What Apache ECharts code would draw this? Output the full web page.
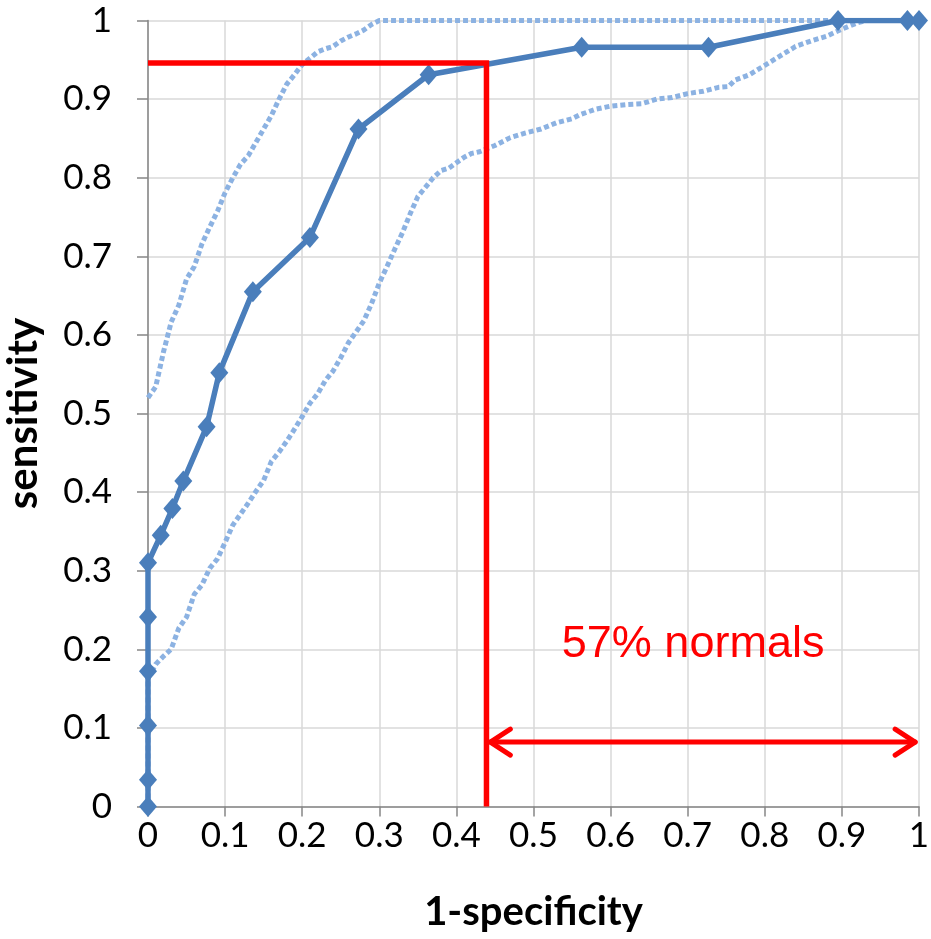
<!DOCTYPE html>
<html>
<head>
<meta charset="utf-8">
<script src="https://cdn.jsdelivr.net/npm/echarts@6/dist/echarts.min.js"></script>
<style>
html,body{margin:0;padding:0;background:#fff;}
#chart{width:931px;height:939px;}
</style>
</head>
<body>
<div id="chart"></div>
<script>
// ROC curve (1-specificity, sensitivity)
const rocX = [0, 0, 0, 0, 0, 0, 0.0165, 0.0316, 0.0458, 0.076, 0.0925, 0.136, 0.21, 0.273, 0.364, 0.5625, 0.727, 0.895, 0.985, 1.0];
const rocY = [0, 0.034, 0.103, 0.172, 0.241, 0.310, 0.345, 0.379, 0.414, 0.483, 0.552, 0.655, 0.724, 0.862, 0.931, 0.966, 0.966, 1.0, 1.0, 1.0];

// Upper confidence band
const upperX = [0, 0.01, 0.02, 0.03, 0.04, 0.05, 0.06, 0.07, 0.08, 0.09, 0.10, 0.11, 0.12, 0.13, 0.14, 0.15, 0.16, 0.17, 0.18, 0.19, 0.20, 0.21, 0.22, 0.23, 0.24, 0.25, 0.26, 0.27, 0.28, 0.29, 0.30, 1.0];
const upperY = [0.520, 0.534, 0.578, 0.616, 0.638, 0.671, 0.687, 0.716, 0.737, 0.757, 0.781, 0.800, 0.817, 0.828, 0.845, 0.862, 0.879, 0.900, 0.919, 0.931, 0.944, 0.952, 0.960, 0.964, 0.967, 0.974, 0.979, 0.983, 0.988, 0.995, 1.0, 1.0];

// Lower confidence band
const lowerX = [0, 0, 0.01, 0.02, 0.03, 0.04, 0.05, 0.06, 0.07, 0.08, 0.09, 0.10, 0.11, 0.12, 0.13, 0.14, 0.15, 0.16, 0.17, 0.18, 0.19, 0.20, 0.21, 0.22, 0.23, 0.24, 0.25, 0.26, 0.27, 0.28, 0.29, 0.30, 0.31, 0.32, 0.33, 0.34, 0.35, 0.36, 0.37, 0.38, 0.39, 0.40, 0.41, 0.42, 0.43, 0.45, 0.47, 0.49, 0.51, 0.53, 0.55, 0.56, 0.58, 0.60, 0.62, 0.64, 0.66, 0.68, 0.70, 0.72, 0.74, 0.753, 0.761, 0.78, 0.80, 0.82, 0.84, 0.86, 0.88, 0.90, 0.92, 0.932, 1.0];
const lowerY = [0, 0.163, 0.181, 0.191, 0.200, 0.227, 0.241, 0.270, 0.282, 0.303, 0.315, 0.336, 0.358, 0.372, 0.386, 0.401, 0.415, 0.439, 0.451, 0.465, 0.480, 0.496, 0.513, 0.525, 0.542, 0.554, 0.571, 0.590, 0.604, 0.618, 0.640, 0.666, 0.687, 0.709, 0.730, 0.754, 0.776, 0.788, 0.800, 0.809, 0.812, 0.819, 0.826, 0.831, 0.833, 0.841, 0.851, 0.857, 0.862, 0.870, 0.875, 0.880, 0.887, 0.891, 0.893, 0.894, 0.900, 0.902, 0.907, 0.910, 0.915, 0.916, 0.924, 0.931, 0.943, 0.955, 0.967, 0.974, 0.980, 0.989, 0.997, 1.0, 1.0];

// Annotations
const cutoffX = 0.439;      // 1-specificity at chosen cut-off
const cutoffY = 0.946;      // sensitivity at chosen cut-off
const arrowY = 0.082;
const arrowFromX = 0.444;
const arrowToX = 0.995;
const noteText = '57% normals';
const noteX = 0.707;
const noteY = 0.2056;

const axisTicks = [0, 1, 0.1]; // min, max, interval

const zip = (xs, ys) => xs.map((x, i) => [x, ys[i]]);

const chart = echarts.init(document.getElementById('chart'), null, {renderer: 'canvas'});

const labelFont = {fontFamily: 'Lato', fontSize: 35, color: '#000'};

chart.setOption({
  animation: false,
  backgroundColor: '#fff',
  grid: {left: 148, right: 12, top: 20.5, bottom: 132.5, containLabel: false, outerBoundsMode: 'none'},
  xAxis: {
    type: 'value', min: axisTicks[0], max: axisTicks[1], interval: axisTicks[2],
    name: '1-specificity', nameLocation: 'middle', nameGap: 86,
    nameTextStyle: {fontFamily: 'Lato', fontWeight: 'bold', fontSize: 40, color: '#000'},
    axisLine: {show: true, onZero: false, lineStyle: {color: '#868686', width: 1.5}},
    axisTick: {show: true, length: 10, lineStyle: {color: '#868686', width: 1.5}},
    axisLabel: Object.assign({margin: 12}, labelFont),
    splitLine: {show: true, lineStyle: {color: '#d9d9d9', width: 1.5}}
  },
  yAxis: {
    type: 'value', min: axisTicks[0], max: axisTicks[1], interval: axisTicks[2],
    name: 'sensitivity', nameLocation: 'middle', nameGap: 104, nameRotate: 90,
    nameTextStyle: {fontFamily: 'Lato', fontWeight: 'bold', fontSize: 42, color: '#000'},
    axisLine: {show: true, onZero: false, lineStyle: {color: '#868686', width: 1.5}},
    axisTick: {show: true, length: 11, lineStyle: {color: '#868686', width: 1.5}},
    axisLabel: Object.assign({margin: 36}, labelFont),
    splitLine: {show: true, lineStyle: {color: '#d9d9d9', width: 1.5}}
  },
  series: [
    {
      type: 'line', name: 'upper', data: zip(upperX, upperY), symbol: 'none', z: 2,
      lineStyle: {color: '#8cb2e2', width: 5, type: [5, 3], cap: 'butt'}
    },
    {
      type: 'line', name: 'lower', data: zip(lowerX, lowerY), symbol: 'none', z: 2,
      lineStyle: {color: '#8cb2e2', width: 5, type: [5, 3], cap: 'butt'}
    },
    {
      type: 'line', name: 'ROC', data: zip(rocX, rocY), z: 3,
      symbol: 'diamond', symbolSize: [18, 21],
      itemStyle: {color: '#4a7ebb'},
      lineStyle: {color: '#4a7ebb', width: 5.5}
    },
    {
      type: 'line', name: 'cutoff', z: 4, symbol: 'none',
      data: [[0, cutoffY], [cutoffX, cutoffY], [cutoffX, 0]],
      lineStyle: {color: '#ff0000', width: 5.5, join: 'miter'}
    },
    {
      type: 'custom', name: 'annot', z: 5,
      data: [[arrowFromX, arrowToX, arrowY, noteX, noteY]],
      renderItem: function (params, api) {
        const p1 = api.coord([api.value(0), api.value(2)]);
        const p2 = api.coord([api.value(1), api.value(2)]);
        const tp = api.coord([api.value(3), api.value(4)]);
        const hl = 20, hh = 13;
        const st = {stroke: '#ff0000', lineWidth: 5, fill: null, lineCap: 'round', lineJoin: 'round'};
        return {
          type: 'group',
          children: [
            {type: 'line', shape: {x1: p1[0], y1: p1[1], x2: p2[0], y2: p2[1]}, style: st},
            {type: 'polyline', shape: {points: [[p1[0] + hl, p1[1] - hh], [p1[0], p1[1]], [p1[0] + hl, p1[1] + hh]]}, style: st},
            {type: 'polyline', shape: {points: [[p2[0] - hl, p2[1] - hh], [p2[0], p2[1]], [p2[0] - hl, p2[1] + hh]]}, style: st},
            {type: 'text', x: tp[0], y: tp[1], style: {text: noteText, fill: '#ff0000', font: '45px "Liberation Sans", Arial, sans-serif', align: 'center', verticalAlign: 'middle'}}
          ]
        };
      }
    }
  ]
});
</script>
</body>
</html>
